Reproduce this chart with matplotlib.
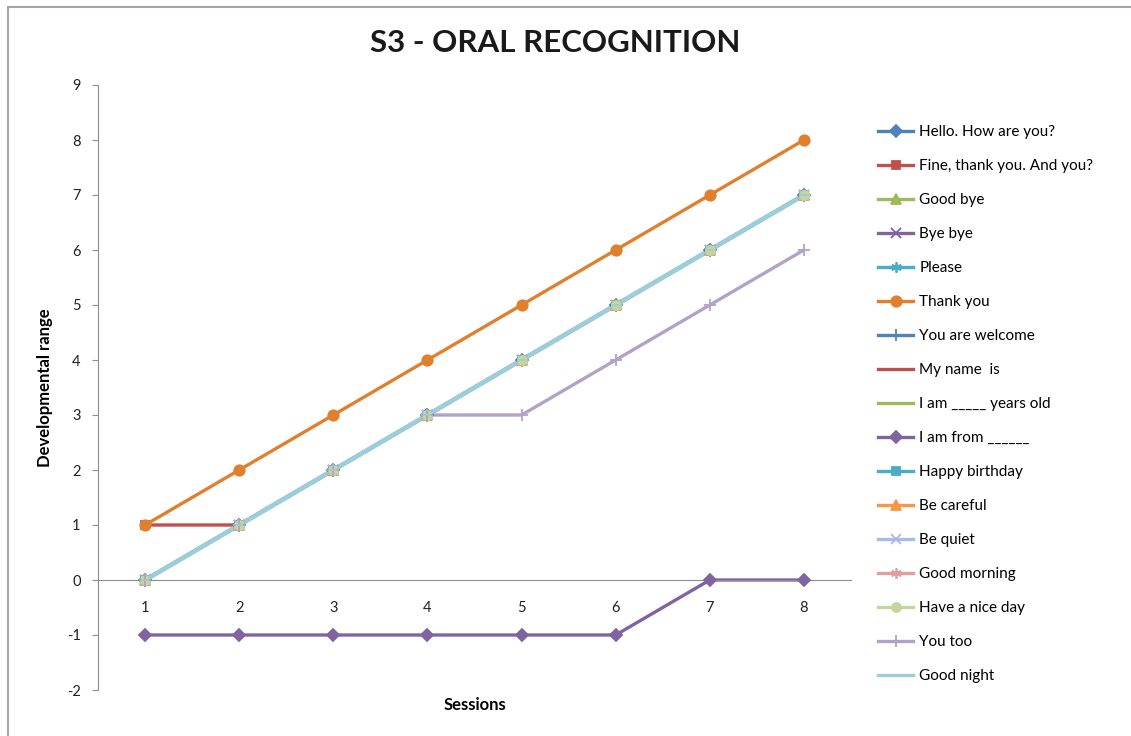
import matplotlib.pyplot as plt
from matplotlib.lines import Line2D
from matplotlib.patches import Rectangle

plt.rcParams['font.family'] = ['Lato', 'DejaVu Sans']
plt.rcParams['axes.unicode_minus'] = False

sessions = [1, 2, 3, 4, 5, 6, 7, 8]

phrases = [
    'Hello. How are you?', 'Fine, thank you. And you?', 'Good bye', 'Bye bye',
    'Please', 'Thank you', 'You are welcome', 'My name  is',
    'I am _____ years old', 'I am from ______', 'Happy birthday', 'Be careful',
    'Be quiet', 'Good morning', 'Have a nice day', 'You too', 'Good night',
]

hello = [0, 1, 2, 3, 4, 5, 6, 7]
fine_thanks = [1, 1, 2, 3, 4, 5, 6, 7]
good_bye = [0, 1, 2, 3, 4, 5, 6, 7]
bye_bye = [0, 1, 2, 3, 4, 5, 6, 7]
please = [0, 1, 2, 3, 4, 5, 6, 7]
thank_you = [1, 2, 3, 4, 5, 6, 7, 8]
welcome = [0, 1, 2, 3, 4, 5, 6, 7]
my_name = [0, 1, 2, 3, 4, 5, 6, 7]
years_old = [0, 1, 2, 3, 4, 5, 6, 7]
i_am_from = [-1, -1, -1, -1, -1, -1, 0, 0]
birthday = [0, 1, 2, 3, 4, 5, 6, 7]
be_careful = [0, 1, 2, 3, 4, 5, 6, 7]
be_quiet = [0, 1, 2, 3, 4, 5, 6, 7]
good_morning = [0, 1, 2, 3, 4, 5, 6, 7]
nice_day = [0, 1, 2, 3, 4, 5, 6, 7]
you_too = [0, 1, 2, 3, 3, 4, 5, 6]
good_night = [0, 1, 2, 3, 4, 5, 6, 7]

series = [hello, fine_thanks, good_bye, bye_bye, please, thank_you, welcome,
          my_name, years_old, i_am_from, birthday, be_careful, be_quiet,
          good_morning, nice_day, you_too, good_night]

# office-style palette and marker cycle
colors = ['#4F81BD', '#C0504D', '#9BBB59', '#8064A2', '#4BACC6', '#E0802F',
          '#4F81BD', '#C0504D', '#9BBB59', '#8064A2', '#4BACC6', '#F79646',
          '#A9BCE0', '#E0A0A0', '#C3D69B', '#B3A2C7', '#9DCDDB']
markers = ['D', 's', '^', 'x', (6, 2, 0), 'o', '+', '_', '_', 'D', 's', '^',
           'x', (6, 2, 0), 'o', '+', '_']
msizes = [6, 6, 7, 7, 7.5, 7.5, 8, 6, 6, 6, 6, 7, 7, 7.5, 6.5, 8, 6]

fig = plt.figure(figsize=(11.31, 7.36), dpi=100)
fig.patches.append(Rectangle((8 / 1131, -0.1), 1.2, 1.1 - 7 / 736,
                             transform=fig.transFigure, fill=False,
                             edgecolor='#A6A6A6', linewidth=1.5))

ax = fig.add_axes([98 / 1131, 1 - 690 / 736, 753 / 1131, 605 / 736])

# lines first, markers on top of every line
for vals, c in zip(series, colors):
    lw = 3.4 if vals is good_night else 2.4
    ax.plot(sessions, vals, color=c, lw=lw, solid_capstyle='butt', zorder=2)
for vals, c, m, ms in zip(series, colors, markers, msizes):
    ax.plot(sessions, vals, ls='none', marker=m, color=c, ms=ms, mew=1.3,
            zorder=3)

ax.set_xlim(0.5, 8.5)
ax.set_ylim(-2, 9)
ax.set_yticks(range(-2, 10))
ax.set_xticks(sessions)

for s in ['top', 'right']:
    ax.spines[s].set_visible(False)
ax.spines['left'].set_color('#8C8C8C')
ax.spines['bottom'].set_color('#8C8C8C')
ax.spines['bottom'].set_position(('data', 0))
ax.tick_params(axis='y', direction='out', length=4.5, color='#8C8C8C',
               labelsize=10.5, pad=8, labelcolor='#222222')
ax.tick_params(axis='x', length=0, labelsize=10.5, pad=15, labelcolor='#222222')

fig.text(45 / 1131, 1 - 388 / 736, 'Developmental range', rotation=90,
         ha='center', va='center', fontsize=12, fontweight='bold')
fig.text(475 / 1131, 1 - 705 / 736, 'Sessions',
         ha='center', va='center', fontsize=12, fontweight='bold')
fig.text(555 / 1131, 1 - 43 / 736, 'S3 - ORAL RECOGNITION', ha='center',
         va='center', fontsize=22.5, fontweight='bold', color='#1A1A1A')

handles = [Line2D([], [], color=c, lw=2.4, marker=m, ms=ms, mew=1.3)
           for c, m, ms in zip(colors, markers, msizes)]
fig.legend(handles, phrases, loc='upper left',
           bbox_to_anchor=(878 / 1131, 1 - 125 / 736), frameon=False,
           fontsize=11, handlelength=2.3, handletextpad=0.4,
           labelspacing=1.31, borderpad=0, borderaxespad=0)

fig.savefig('out.png', dpi=100)
